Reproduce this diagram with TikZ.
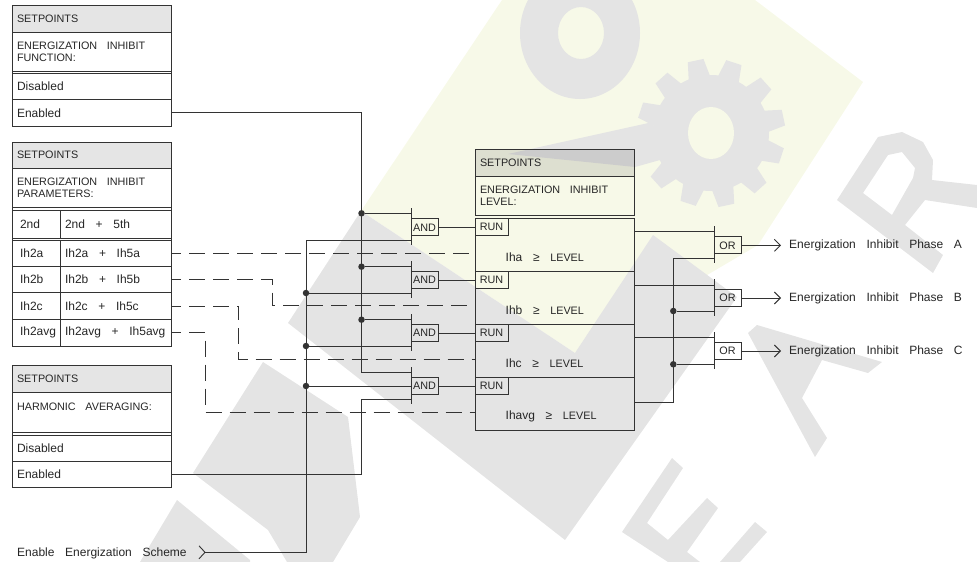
\documentclass[tikz,border=0pt]{standalone}
\usepackage{fontspec}
\setmainfont[WordSpace=3.2]{Liberation Sans}
\usetikzlibrary{arrows.meta}
\colorlet{mywire}{black!80}
\definecolor{mygray}{HTML}{E4E4E4}
\definecolor{myyellow}{HTML}{F7F9E8}
\tikzset{
    >={Straight Barb[length=6pt,width=12pt]},
    wire/.style={line width=0.9pt, mywire},
    dashwire/.style={wire, dash pattern=on 16pt off 8pt, dash phase=6pt},
    cell/.style={draw=mywire, line width=0.9pt, rectangle, anchor=north west, outer sep=0pt,
        inner xsep=5pt, inner ysep=0pt, text width=#1, align=flush left, text=black!85,
        font=\fontsize{12}{12.5}\selectfont},
    cell/.default=149pt,
    capcell/.style={cell=#1, font=\fontsize{10.8}{12}\selectfont},
    capcell/.default=149pt,
    headcell/.style={capcell=#1, fill=black, fill opacity=0.1, text opacity=1},
    headcell/.default=149pt,
    gatebox/.style={draw=mywire, line width=0.9pt, rectangle, outer sep=0pt, inner sep=0pt,
        minimum height=17pt, text=black!85, font=\fontsize{10.8}{12}\selectfont},
    junc/.style={circle, fill=mywire, inner sep=0pt, minimum size=6.5pt},
    lab/.style={anchor=west, inner sep=0pt, text=black!85, font=\fontsize{12}{12.5}\selectfont},
    outlab/.style={lab, inner sep=8pt},
}

\begin{document}
\begin{tikzpicture}[x=1pt, y=-1pt]
    \useasboundingbox (0,0) rectangle (977,562);

    % watermark behind the logic
    \fill[myyellow] (502,0) -- (755,0) -- (863,82) -- (758,245) -- (575,353) -- (361,211) -- cycle;
    \fill[mygray] (288,323) -- (361,211) -- (575,353) -- (653,235) -- (737,297) -- (565,540) -- cycle;
    \fill[mygray] (193,473) -- (263,362) -- (348,417) -- (360,517) -- (333,562) -- (287,562) -- (268,530) -- cycle;
    \fill[mygray] (177,500) -- (250,560) -- (250,562) -- (140,562) -- cycle;
    \fill[mygray] (748,333) -- (757,325) -- (882,362) -- (868,373) -- (822,360) -- (802,398) -- (827,438) -- (815,457) -- cycle;
    \fill[mygray] (672,458) -- (683,468) -- (647,523) -- (668,540) -- (707,498) -- (718,508) -- (687,552) -- (700,562) -- (720,562) -- (755,522) -- (767,532) -- (740,562) -- (668,562) -- (622,532) -- cycle;
    \fill[mygray, even odd rule] (837,200) -- (878,137) -- (902,132) -- (923,142) -- (933,160) -- (932,180) -- (977,185) -- (977,208) -- (925,200) -- (905,225) -- (943,255) -- (933,273) -- cycle
        (863,193) -- (888,155) -- (902,152) -- (915,168) -- (913,178) -- (892,215) -- cycle;
    \fill[mygray, even odd rule] (580,33) ellipse [x radius=60, y radius=66] (581,33) ellipse [x radius=23, y radius=26];
    \fill[mygray] (508,154) -- (653,122) -- (660,160) -- (635,167) -- cycle;
    \fill[mygray] (711,133) circle [radius=58];
    \foreach \a in {12,42,...,342} {
        \fill[mygray, rotate around={\a:(711,133)}] (760,121) -- (785,125) -- (785,141) -- (760,145) -- cycle;
    }
    \fill[myyellow] (711,133) ellipse [x radius=23, y radius=26];

    % setpoints, function
    \node[headcell, minimum height=27pt] (funcHead) at (12,5) {SETPOINTS};
    \node[capcell, minimum height=39pt] (funcTitle) at (12,32) {ENERGIZATION INHIBIT\\FUNCTION:};
    \node[cell, minimum height=26pt] (funcDis) at (12,73.5) {Disabled};
    \node[cell, minimum height=26.5pt] (funcEn) at (12,99.5) {Enabled};
    \draw[wire] (funcHead.north west) rectangle (funcEn.south east);

    % setpoints, parameters
    \node[headcell, minimum height=26pt] (parHead) at (12,142) {SETPOINTS};
    \node[capcell, minimum height=39.5pt] (parTitle) at (12,168) {ENERGIZATION INHIBIT\\PARAMETERS:};
    \foreach \n/\l/\r/\ytop/\hgt in {Zero/2nd/2nd + 5th/210.5/27.5, A/Ih2a/Ih2a + Ih5a/240.5/26.2, B/Ih2b/Ih2b + Ih5b/266.7/26, C/Ih2c/Ih2c + Ih5c/292.7/26.6, D/Ih2avg/Ih2avg + Ih5avg/319.3/26.7} {
        \node[cell=32pt, inner xsep=8pt, minimum height=\hgt pt] (lh\n) at (12,\ytop) {\mbox{\l}};
        \node[cell=101pt, minimum height=\hgt pt] (rh\n) at (60,\ytop) {\r};
    }
    \draw[wire] (parHead.north west) rectangle (rhD.south east);

    % setpoints, averaging
    \node[headcell, minimum height=26.7pt] (avgHead) at (12,365.3) {SETPOINTS};
    \node[capcell, minimum height=40.5pt] (avgTitle) at (12,392) {HARMONIC AVERAGING:\\\mbox{}};
    \node[cell, minimum height=26.3pt] (avgDis) at (12,435.3) {Disabled};
    \node[cell, minimum height=25.7pt] (avgEn) at (12,461.7) {Enabled};
    \draw[wire] (avgHead.north west) rectangle (avgEn.south east);

    % setpoints, level
    \node[headcell=149pt, minimum height=26.7pt] (lvlHead) at (475,149.3) {SETPOINTS};
    \node[capcell=149pt, minimum height=39.7pt] (lvlTitle) at (475,176) {ENERGIZATION INHIBIT\\LEVEL:};
    \foreach \n/\t/\ytop/\hgt/\ytxt in {A/Iha/218.5/52.8/257, B/Ihb/271.3/53/310, C/Ihc/324.3/53.4/363, D/Ihavg/377.7/52.3/416} {
        \node[cell, minimum height=\hgt pt] (row\n) at (475,\ytop) {};
        \node[lab] (txt\n) at (505.5,\ytxt) {\t{} ≥ {\fontsize{10.8}{12}\selectfont LEVEL}};
    }

    % gates
    \foreach \n/\yc in {A/227.3, B/280, C/333, D/386} {
        \node[gatebox, minimum width=27pt] (and\n) at (424.5,\yc) {AND};
        \node[gatebox, minimum width=33pt, anchor=west] (run\n) at (475,\yc) {RUN};
        \draw[wire] (and\n.west) +(0,-19) -- +(0,18);
        \draw[wire] (and\n.east) -- (run\n.west);
    }
    \foreach \n/\yo in {A/245.3, B/298, C/351} {
        \node[gatebox, minimum width=27pt] (or\n) at (727.5,\yo) {OR};
        \draw[wire] (or\n.west) +(0,-19) -- +(0,18);
        \node[outlab] (out\n) at (781,\yo) {Energization Inhibit Phase \n};
        \draw[wire, ->] (or\n.east) -- (out\n.west);
    }

    % junctions and turning points
    \foreach \n/\y in {A/213.3, B/266.7, C/319.7} {
        \node[junc] (jEn\n) at (361.5,\y) {};
        \draw[wire] (jEn\n) -- (and\n.west |- jEn\n);
    }
    \foreach \n/\y in {B/293, C/346, D/386} {
        \node[junc] (jSch\n) at (306,\y) {};
        \draw[wire] (jSch\n) -- (and\n.west |- jSch\n);
    }
    \coordinate (enTurn) at (361.5,372.3);
    \coordinate (avgTurn) at (361.5,399.3);
    \coordinate (schTurn) at (306,240);
    \draw[wire] (funcEn.east) -| (enTurn) -- (andD.west |- enTurn);
    \draw[wire] (avgEn.east) -| (avgTurn) -- (andD.west |- avgTurn);

    \node[lab] (scheme) at (17,553) {Enable Energization Scheme};
    \coordinate (schTip) at (205,552.3);
    \draw[wire] (schTip) ++(-6,-6.5) -- (schTip) -- ++(-6,6.5);
    \draw[wire] (schTip) -| (schTurn) -- (andA.west |- schTurn);

    % dashed selections
    \coordinate (bendB) at (272,305.7);
    \coordinate (bendC) at (238.7,359.3);
    \coordinate (bendD) at (205,412);
    \draw[dashwire] (rhA.east) -- (rowA.west |- rhA.east);
    \draw[dashwire] (rhB.east) -| (bendB) -- (rowB.west |- bendB);
    \draw[dashwire] (rhC.east) -| (bendC) -- (rowC.west |- bendC);
    \draw[dashwire] (rhD.east) -| (bendD) -- (rowD.west |- bendD);

    % level outputs
    \coordinate (lvlA) at (634,231.7);
    \coordinate (lvlB) at (634,285);
    \coordinate (lvlC) at (634,337.7);
    \coordinate (lvlD) at (634,402.3);
    \coordinate (busTop) at (673.3,258.3);
    \node[junc] (jOrB) at (673.3,311) {};
    \node[junc] (jOrC) at (673.3,364.3) {};
    \draw[wire] (lvlA) -- (orA.west |- lvlA);
    \draw[wire] (lvlB) -- (orB.west |- lvlB);
    \draw[wire] (lvlC) -- (orC.west |- lvlC);
    \draw[wire] (lvlD) -| (busTop) -- (orA.west |- busTop);
    \draw[wire] (jOrB) -- (orB.west |- jOrB);
    \draw[wire] (jOrC) -- (orC.west |- jOrC);
\end{tikzpicture}
\end{document}
